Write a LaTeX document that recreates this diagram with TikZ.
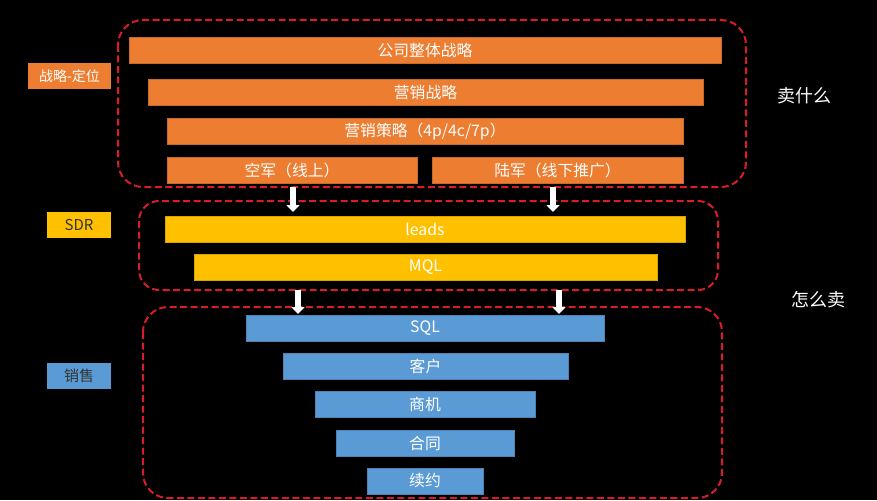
\documentclass[tikz,border=0pt]{standalone}
\usepackage{fontspec}
\setmainfont{Noto Sans CJK SC}
\usetikzlibrary{arrows.meta}
\definecolor{orng}{HTML}{ED7D31}
\definecolor{yell}{HTML}{FFC000}
\definecolor{blu}{HTML}{5B9BD5}
\definecolor{dred}{RGB}{215,30,40}
\begin{document}
\begin{tikzpicture}[x=1pt,y=-1pt,
  bar/.style={minimum height=26pt, inner sep=0pt, text=white, font=\fontsize{15.8}{16}\selectfont},
  obar/.style={bar, fill=orng, draw=orng!85!black, line width=0.5pt},
  ybar/.style={bar, fill=yell, draw=yell!85!black, line width=0.5pt},
  bbar/.style={bar, fill=blu, draw=blu!85!black, line width=0.5pt},
  lbl/.style={minimum height=26pt, minimum width=64pt, inner sep=0pt, font=\fontsize{15}{15}\selectfont},
  grp/.style={draw=dred, line width=2pt, dash pattern=on 7pt off 3.5pt},
  side/.style={text=white, font=\fontsize{18}{18}\selectfont},
  flow/.style={draw=white, line width=6pt, -{Triangle[width=13pt,length=7pt]}}
]
\fill[black] (0,0) rectangle (877,500);
\useasboundingbox (0,0) rectangle (877,500);

% group frames
\draw[grp, rounded corners=25pt] (118,20) rectangle (746,187);
\draw[grp, rounded corners=20pt] (139,201) rectangle (718,290);
\draw[grp, rounded corners=25pt] (143,307) rectangle (722,498);

% strategy bars
\node[obar, minimum width=592pt] (b1) at (425,50) {公司整体战略};
\node[obar, minimum width=555pt] (b2) at (425.5,92.5) {营销战略};
\node[obar, minimum width=516pt] (b3) at (425,131.5) {营销策略（4p/4c/7p）};
\node[obar, minimum width=250pt] (b4a) at (292,170) {空军（线上）};
\node[obar, minimum width=251pt] (b4b) at (557.5,170) {陆军（线下推广）};

% SDR bars
\node[ybar, minimum width=520pt] (leads) at (425,229) {leads};
\node[ybar, minimum width=463pt] (mql) at (425.5,267.5) {MQL};

% sales bars
\node[bbar, minimum width=358pt] (sql) at (425,328) {SQL};
\node[bbar, minimum width=285pt] (kh) at (425.5,366) {客户};
\node[bbar, minimum width=220pt] (sj) at (425,404.5) {商机};
\node[bbar, minimum width=178pt] (ht) at (425,443) {合同};
\node[bbar, minimum width=116pt] (xy) at (425,481) {续约};

% left labels
\node[lbl, minimum width=83pt, fill=orng, text=white, font=\fontsize{14}{14}\selectfont] (l1) at (69.5,76) {战略-定位};
\node[lbl, fill=yell, text=black!80] (l2) at (79,225) {SDR};
\node[lbl, fill=blu, text=black!80] (l3) at (79,376) {销售};

% right texts
\node[side] (r1) at (804,96) {卖什么};
\node[side] (r2) at (818,300) {怎么卖};

% arrows
\coordinate (a1s) at (293,187);
\coordinate (a1e) at (293,212);
\coordinate (a2s) at (553,187);
\coordinate (a2e) at (553,212);
\coordinate (a3s) at (298,290);
\coordinate (a3e) at (298,314);
\coordinate (a4s) at (559,290);
\coordinate (a4e) at (559,314);
\draw[flow] (a1s) -- (a1e);
\draw[flow] (a2s) -- (a2e);
\draw[flow] (a3s) -- (a3e);
\draw[flow] (a4s) -- (a4e);
\end{tikzpicture}
\end{document}
